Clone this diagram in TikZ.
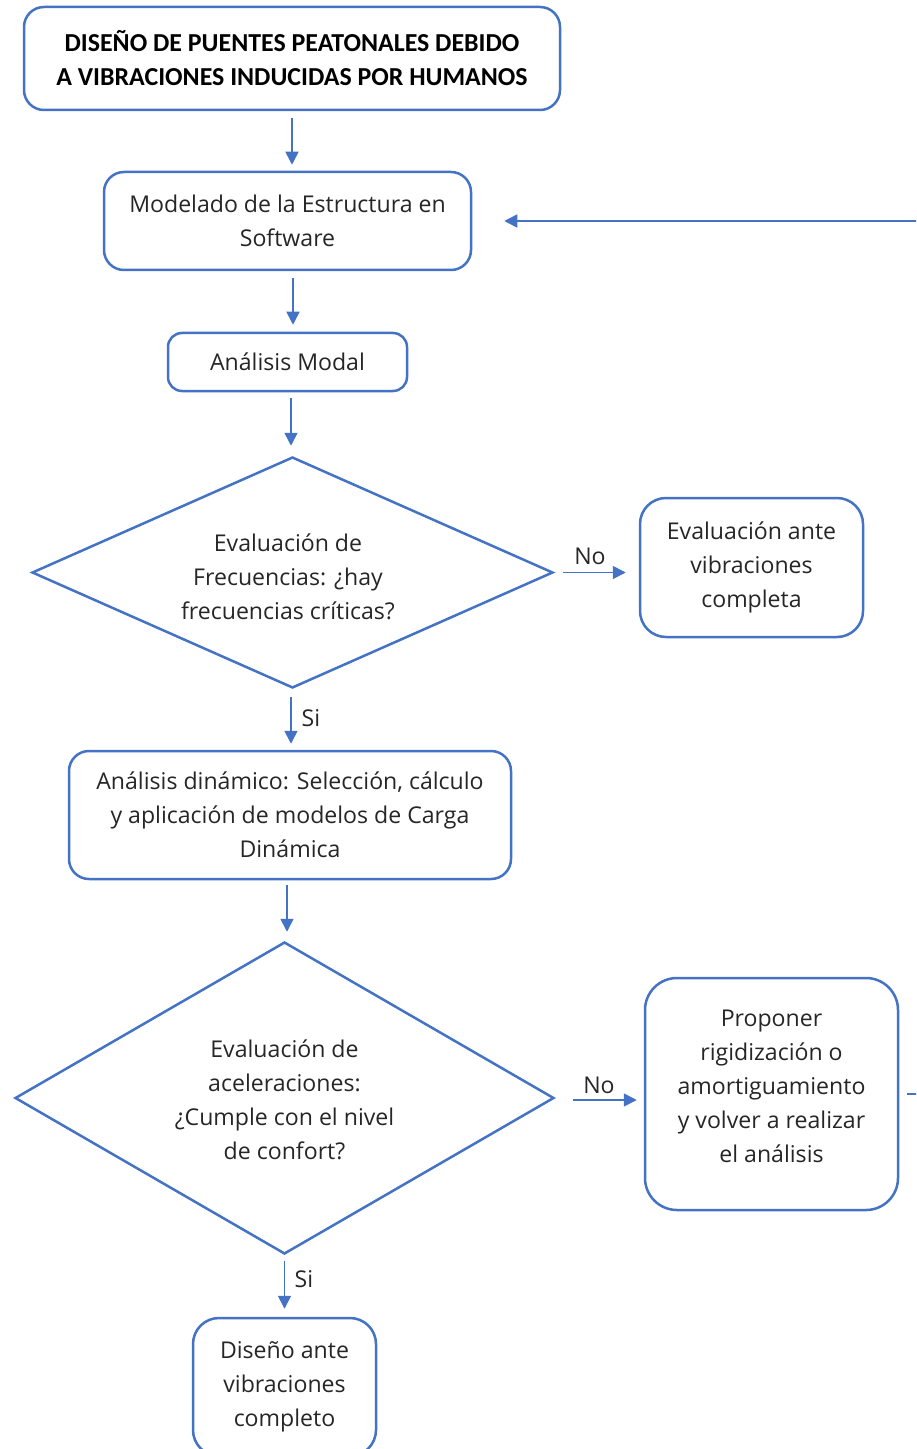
\documentclass[tikz,border=0pt]{standalone}
\usepackage{fontspec}
\setmainfont{Open Sans}
\newfontfamily\titlefont{Carlito}
\usetikzlibrary{shapes.geometric,arrows.meta,calc}
\definecolor{ob}{HTML}{4472C4}
\tikzset{
  box/.style={draw=ob, line width=1.25pt, rounded corners=10pt, fill=white, inner sep=0pt},
  dia/.style={draw=ob, line width=1.25pt, diamond, inner sep=0pt},
  txt/.style={align=center, font=\fontsize{11.55pt}{17pt}\selectfont, text=black!85},
  arr/.style={draw=ob, line width=0.8pt, -{Triangle[length=6.5pt,width=6.5pt]}},
  lbl/.style={font=\fontsize{11.55pt}{17pt}\selectfont, text=black!85}
}
\begin{document}
\begin{tikzpicture}[x=0.5pt,y=-0.5pt]
\useasboundingbox (0,0) rectangle (916,1449);
\clip (0,0) rectangle (916,1449);
% boxes
\node[box, minimum width=268pt, minimum height=51.5pt] (title) at (292,58.5) {};
\node[txt, font=\titlefont\fontsize{12.95pt}{17pt}\selectfont\bfseries, text=black] (titlet) at (title) {DISEÑO DE PUENTES PEATONALES DEBIDO\\A VIBRACIONES INDUCIDAS POR HUMANOS};
\node[box, minimum width=183.5pt, minimum height=49pt] (model) at (287.5,221) {};
\node[txt] (modelt) at (model) {Modelado de la Estructura en\\Software};
\node[box, minimum width=119.5pt, minimum height=29pt, rounded corners=7pt] (modal) at (287.5,362) {};
\node[txt] (modalt) at (modal) {Análisis Modal};
\node[dia, minimum width=260.5pt, minimum height=115.5pt] (d1) at (292.5,572.5) {};
\node[txt] (d1t) at (288,577) {Evaluación de\\Frecuencias: ¿hay\\frecuencias críticas?};
\node[box, minimum width=111.5pt, minimum height=69.5pt, rounded corners=13pt] (evalc) at (751.5,567.5) {};
\node[txt] (evalct) at (evalc) {Evaluación ante\\vibraciones\\completa};
\node[box, minimum width=221pt, minimum height=64pt] (din) at (290,815) {};
\node[txt] (dint) at (din) {Análisis dinámico: Selección, cálculo\\y aplicación de modelos de Carga\\Dinámica};
\node[dia, minimum width=269.5pt, minimum height=156pt] (d2) at (284.5,1098) {};
\node[txt] (d2t) at (284.5,1100) {Evaluación de\\aceleraciones:\\¿Cumple con el nivel\\de confort?};
\node[box, minimum width=126.5pt, minimum height=116pt, rounded corners=16pt] (prop) at (771.5,1094) {};
\node[txt] (propt) at (771.5,1086) {Proponer\\rigidización o\\amortiguamiento\\y volver a realizar\\el análisis};
\node[box, minimum width=91.5pt, minimum height=69pt, rounded corners=13pt] (final) at (284.5,1387) {};
\node[txt] (finalt) at (final) {Diseño ante\\vibraciones\\completo};
% connectors
\draw[arr, shorten <=3.5pt, shorten >=3pt] (title.south) -- (title.south |- model.north);
\draw[arr, shorten <=3.5pt, shorten >=3.5pt] ($(model.south)+(5.5,0)$) -- ($(model.south |- modal.north)+(5.5,0)$);
\draw[arr, shorten <=3pt, shorten >=5pt] ($(modal.south)+(3.5,0)$) -- ($(modal.south |- d1.north)+(3.5,0)$);
\draw[arr, shorten <=4.5pt, shorten >=6.5pt] (d1.east) -- (d1.east -| evalc.west);
\node[lbl] (no1) at (590,556) {No};
\draw[arr, shorten <=4pt, shorten >=3pt] ($(d1.south)+(-1.5,0)$) -- ($(d1.south |- din.north)+(-1.5,0)$);
\node[lbl] (si1) at (311,718) {Si};
\draw[arr, shorten <=2.5pt, shorten >=4.5pt] ($(din.south)+(-3,0)$) -- ($(din.south |- d2.north)+(-3,0)$);
\draw[arr, shorten <=9pt, shorten >=3.5pt] ($(d2.east)+(0,2)$) -- ($(d2.east -| prop.west)+(0,2)$);
\node[lbl] (no2) at (599,1085) {No};
\draw[arr, shorten <=3pt, shorten >=4pt] (d2.south) -- (d2.south |- final.north);
\node[lbl] (si2) at (304,1279) {Si};
\coordinate (fb) at (935,221);
\draw[arr, shorten <=4pt, shorten >=16pt] (prop.east) -| (fb) -- (model.east);
\end{tikzpicture}
\end{document}
